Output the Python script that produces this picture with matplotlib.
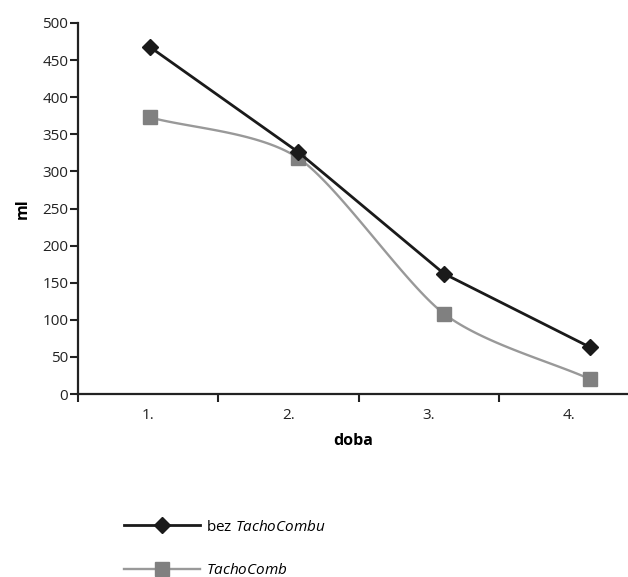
import numpy as np
import matplotlib
matplotlib.use("Agg")
import matplotlib.pyplot as plt
from matplotlib.ticker import FixedLocator, MultipleLocator

plt.rcParams['font.family'] = ['Open Sans', 'DejaVu Sans']
plt.rcParams['mathtext.fontset'] = 'custom'
plt.rcParams['mathtext.it'] = 'Open Sans:italic'
plt.rcParams['mathtext.rm'] = 'Open Sans'

# Data
categories = ["1.", "2.", "3.", "4."]
doba_x = [1.01, 2.07, 3.11, 4.15]          # marker positions
bez_tacho = [468, 326, 162, 63]
tacho = [373, 318, 108, 20]
label_bez = "bez $\\it{TachoCombu}$"
label_tacho = "$\\it{TachoComb}$"


def smooth_curve(xs, ys, n=40, tension=0.8):
    xs = np.asarray(xs, float)
    ys = np.asarray(ys, float)
    P = np.column_stack([xs, ys])
    P = np.vstack([2 * P[0] - P[1], P, 2 * P[-1] - P[-2]])
    out = []
    for i in range(1, len(P) - 2):
        p0, p1, p2, p3 = P[i - 1], P[i], P[i + 1], P[i + 2]
        m1 = tension * 0.5 * (p2 - p0)
        m2 = tension * 0.5 * (p3 - p1)
        t = np.linspace(0, 1, n)[:, None]
        h00 = 2 * t ** 3 - 3 * t ** 2 + 1
        h10 = t ** 3 - 2 * t ** 2 + t
        h01 = -2 * t ** 3 + 3 * t ** 2
        h11 = t ** 3 - t ** 2
        out.append(h00 * p1 + h10 * m1 + h01 * p2 + h11 * m2)
    c = np.vstack(out)
    return c[:, 0], c[:, 1]


fig = plt.figure(figsize=(6.28, 5.77), dpi=100)
ax = fig.add_axes([78 / 628, (577 - 394) / 577, 1 - 78 / 628, (394 - 23) / 577])

black = "#1a1a1a"
gray_line = "#999999"
gray_mk = "#808080"

ax.plot(doba_x, bez_tacho, color=black, lw=2.0, marker="D", ms=8.5,
        mfc=black, mec=black, label=label_bez, zorder=3)
cx, cy = smooth_curve(doba_x, tacho)
ax.plot(cx, cy, color=gray_line, lw=1.7, zorder=2)
ax.plot(doba_x, tacho, color=gray_line, lw=0, marker="s", ms=10.5,
        mfc=gray_mk, mec=gray_mk, zorder=2)
# legend proxy
ax.plot([], [], color=gray_line, lw=1.7, marker="s", ms=10.5, mfc=gray_mk, mec=gray_mk,
        label=label_tacho)

ax.set_xlim(0.5, 0.5 + (628 - 78) / 140.3)
ax.set_ylim(0, 500)

ax.spines['top'].set_visible(False)
ax.spines['right'].set_visible(False)
for s in ['left', 'bottom']:
    ax.spines[s].set_color("#222222")
    ax.spines[s].set_linewidth(1.6)

ax.yaxis.set_major_locator(MultipleLocator(50))
ax.tick_params(axis='y', direction='out', length=6, width=1.5, color="#222222",
               labelsize=11, labelcolor="#222222", pad=1)

ax.xaxis.set_major_locator(FixedLocator([1, 2, 3, 4]))
ax.set_xticklabels(categories)
ax.xaxis.set_minor_locator(FixedLocator([0.5, 1.5, 2.5, 3.5]))
ax.tick_params(axis='x', which='major', length=0, pad=10, labelsize=11, labelcolor="#222222")
ax.tick_params(axis='x', which='minor', direction='out', length=6, width=1.5, color="#222222")

ax.set_ylabel("ml", fontsize=11.5, fontweight='bold')
ax.set_xlabel("doba", fontsize=11.5, fontweight='bold', labelpad=7)
ax.yaxis.set_label_coords(-0.085, 0.5)

ax.legend(loc='upper left', bbox_to_anchor=(110 / 628, 1 - 506 / 577),
          bbox_transform=fig.transFigure, frameon=False, fontsize=11,
          handlelength=5.0, labelspacing=1.85, handletextpad=0.4)

fig.savefig("out.png", dpi=100)
